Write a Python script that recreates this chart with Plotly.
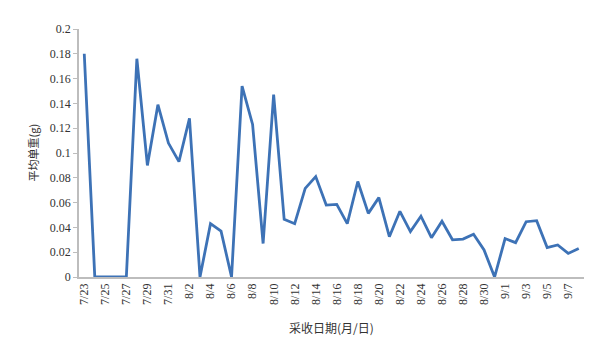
import plotly.graph_objects as go

dates = (["7/%d" % d for d in range(23, 32)]
         + ["8/%d" % d for d in range(1, 32)]
         + ["9/%d" % d for d in range(1, 9)])

weights = [0.180, 0, 0, 0, 0, 0.176, 0.090, 0.139, 0.108, 0.093,
           0.128, 0, 0.043, 0.037, 0, 0.154, 0.123, 0.027, 0.147, 0.0465,
           0.043, 0.0715, 0.081, 0.058, 0.0586, 0.043, 0.077, 0.0513, 0.064, 0.0325,
           0.053, 0.0366, 0.049, 0.0317, 0.045, 0.030, 0.0306, 0.0344, 0.0218, 0,
           0.031, 0.0277, 0.0446, 0.0454, 0.0237, 0.0258, 0.019, 0.023]

tick_labels = dates[::2]
y_ticks = [0, 0.02, 0.04, 0.06, 0.08, 0.1, 0.12, 0.14, 0.16, 0.18, 0.2]

fig = go.Figure(go.Scatter(
    x=dates, y=weights, mode="lines",
    line=dict(color="#3d72b6", width=2.8),
))

serif = "Liberation Serif"
fig.update_layout(
    width=607, height=361,
    margin=dict(l=71, r=31, t=21, b=92),
    paper_bgcolor="white", plot_bgcolor="white",
    showlegend=False,
    font=dict(family=serif, size=11, color="#333333"),
    annotations=[
        dict(text="采收日期(月/日)", xref="paper", yref="paper",
             x=0.5, y=-0.163, yanchor="top", xanchor="center", showarrow=False,
             font=dict(family="Noto Sans CJK SC", size=12, color="#333333")),
        dict(text="平均单重(g)", xref="paper", yref="paper",
             x=-0.092, y=0.5, textangle=-90, xanchor="center", yanchor="middle",
             showarrow=False,
             font=dict(family="Noto Sans CJK SC", size=11, color="#333333")),
    ],
)
fig.update_xaxes(
    type="category", categoryorder="array", categoryarray=dates,
    range=[-0.5, 47.5], automargin=False,
    tickmode="array", tickvals=tick_labels, ticktext=tick_labels,
    tickangle=-90, tickfont=dict(family=serif, size=12, color="#333333"),
    showline=True, linecolor="#bdbdbd", linewidth=1.5,
    showgrid=False, zeroline=False, ticks="",
)
fig.update_yaxes(
    range=[0, 0.2], automargin=False,
    tickmode="array", tickvals=y_ticks, ticktext=[("%g" % v) for v in y_ticks],
    tickfont=dict(family=serif, size=12, color="#333333"),
    showline=True, linecolor="#bdbdbd", linewidth=1.5,
    ticks="outside", ticklen=4, tickcolor="#bdbdbd",
    showgrid=False, zeroline=False,
)

fig.write_html("out.html")
